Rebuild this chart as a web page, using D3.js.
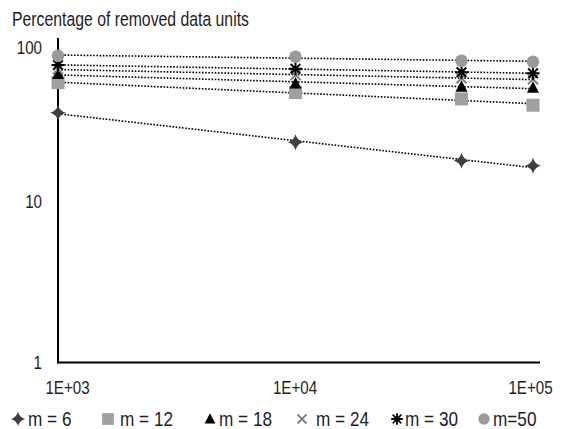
<!DOCTYPE html>
<html><head><meta charset="utf-8">
<script src="https://cdn.jsdelivr.net/npm/d3@7/dist/d3.min.js"></script>
<style>
html,body{margin:0;padding:0;background:#fff;}
svg text{font-family:"Liberation Sans Narrow","Arial Narrow","Liberation Sans",Arial,sans-serif;fill:#1e1e1e;}
</style></head>
<body><svg id="c" width="564" height="429"></svg>
<script>
const xValues = [1000, 10000, 50000, 100000];
const seriesNames = ["m = 6", "m = 12", "m = 18", "m = 24", "m = 30", "m=50"];
const m6  = [35.4, 23.2, 17.8, 16.6];
const m12 = [54.4, 47.2, 43.1, 39.4];
const m18 = [61.5, 53.7, 51.3, 50.6];
const m24 = [65.8, 60.7, 57.9, 57.1];
const m30 = [70.0, 66.3, 63.1, 62.2];
const m50 = [79.9, 78.8, 74.4, 73.3];
const yTicks = [1, 10, 100];
const xTicks = [1000, 10000, 100000];
const yTickLabels = ["1", "10", "100"];
const xTickLabels = ["1E+03", "1E+04", "1E+05"];
const title = "Percentage of removed data units";

const series = [m6, m12, m18, m24, m30, m50];
const markers = ["star4", "square", "triangle", "times", "asterisk", "circle"];
const colors = ["#404040", "#a0a0a0", "#000000", "#808080", "#000000", "#9a9a9a"];

function condense(sel, sx) {
  sel.each(function () {
    const t = d3.select(this);
    const tx = +t.attr("x") || 0, ty = +t.attr("y") || 0;
    t.attr("x", 0).attr("y", 0).attr("transform", `translate(${tx},${ty}) scale(${sx},1)`);
  });
}

const svg = d3.select("#c");
const x = d3.scaleLog().domain([1000, 100000]).range([58, 533]);
const y = d3.scaleLog().domain([1, 100]).range([362.5, 40]);

svg.append("text").attr("x", 12).attr("y", 26).attr("font-size", 19.5).text(title).call(condense, 0.81);

// axes
const yAxis = d3.axisLeft(y).tickValues(yTicks).tickSize(0).tickPadding(16)
  .tickFormat((d, i) => yTickLabels[i]);
const gy = svg.append("g").attr("transform", "translate(58,0)").call(yAxis);
gy.select(".domain").remove();
gy.selectAll("text").attr("font-size", 18.5).attr("fill", "#1e1e1e")
  .attr("dy", (d, i) => i === 2 ? "0.75em" : "0.32em").call(condense, 0.82);

const xAxis = d3.axisBottom(x).tickValues(xTicks).tickSize(0).tickPadding(18)
  .tickFormat((d, i) => xTickLabels[i]);
const gx = svg.append("g").attr("transform", "translate(0,362.5)").call(xAxis);
gx.select(".domain").remove();
gx.selectAll("text").attr("font-size", 18.5).attr("fill", "#1e1e1e")
  .attr("x", (d, i) => i === 0 ? 9 : (i === 2 ? -3 : -1)).call(condense, 0.82);

svg.append("line").attr("x1", 58).attr("x2", 58).attr("y1", 38).attr("y2", 363.5)
  .attr("stroke", "#000").attr("stroke-width", 2);
svg.append("line").attr("x1", 57).attr("x2", 540).attr("y1", 362.5).attr("y2", 362.5)
  .attr("stroke", "#000").attr("stroke-width", 2);

// power trendlines (least squares in log-log space)
function fit(vals) {
  const lx = xValues.map(Math.log10), ly = vals.map(Math.log10);
  const mx = d3.mean(lx), my = d3.mean(ly);
  let sxy = 0, sxx = 0;
  lx.forEach((v, i) => { sxy += (v - mx) * (ly[i] - my); sxx += (v - mx) * (v - mx); });
  const b = sxy / sxx, a = my - b * mx;
  return xv => Math.pow(10, a + b * Math.log10(xv));
}
series.forEach(vals => {
  const f = fit(vals);
  const ends = [xValues[0], xValues[xValues.length - 1]];
  svg.append("path")
    .attr("d", d3.line().x(d => x(d)).y(d => y(f(d)))(ends))
    .attr("fill", "none").attr("stroke", "#000").attr("stroke-width", 1.6)
    .attr("stroke-dasharray", "1.6 1.6");
});

function drawMarker(g, type, color, cx, cy) {
  if (type === "star4") {
    const r = 8, k = 3.2;
    const p = `M${cx},${cy - r} Q${cx + k / 2},${cy - k / 2} ${cx + r},${cy} Q${cx + k / 2},${cy + k / 2} ${cx},${cy + r} Q${cx - k / 2},${cy + k / 2} ${cx - r},${cy} Q${cx - k / 2},${cy - k / 2} ${cx},${cy - r}Z`;
    g.append("path").attr("d", p).attr("fill", color);
  } else if (type === "square") {
    g.append("rect").attr("x", cx - 6.5).attr("y", cy - 6.5).attr("width", 13).attr("height", 13).attr("fill", color);
  } else if (type === "triangle") {
    g.append("path").attr("d", `M${cx},${cy - 6.5}L${cx + 6},${cy + 5}L${cx - 6},${cy + 5}Z`).attr("fill", color);
  } else if (type === "times") {
    const r = 5;
    g.append("path").attr("d", `M${cx - r},${cy - r}L${cx + r},${cy + r}M${cx - r},${cy + r}L${cx + r},${cy - r}`)
      .attr("stroke", color).attr("stroke-width", 2).attr("fill", "none");
  } else if (type === "asterisk") {
    const r = 6.5, d = 4.8;
    g.append("path").attr("d", `M${cx - r},${cy}L${cx + r},${cy}M${cx},${cy - r}L${cx},${cy + r}M${cx - d},${cy - d}L${cx + d},${cy + d}M${cx - d},${cy + d}L${cx + d},${cy - d}`)
      .attr("stroke", color).attr("stroke-width", 2).attr("fill", "none");
  } else if (type === "circle") {
    g.append("circle").attr("cx", cx).attr("cy", cy).attr("r", 6.3).attr("fill", color);
  }
}

const gm = svg.append("g");
series.forEach((vals, si) => {
  vals.forEach((v, i) => drawMarker(gm, markers[si], colors[si], x(xValues[i]), y(v)));
});

// legend
const legendX = [18, 108, 210, 302, 397, 484];
const legendTextX = [28, 120, 219, 316, 405, 493];
const lg = svg.append("g");
seriesNames.forEach((name, i) => {
  const s = lg.append("g");
  const gsym = s.append("g").attr("transform", `translate(${legendX[i]},419) scale(0.9)`);
  drawMarker(gsym, markers[i], colors[i], 0, 0);
  s.append("text").attr("x", legendTextX[i]).attr("y", 419).attr("dy", "0.35em")
    .attr("font-size", 20).text(name).call(condense, 0.86);
});
</script></body></html>
